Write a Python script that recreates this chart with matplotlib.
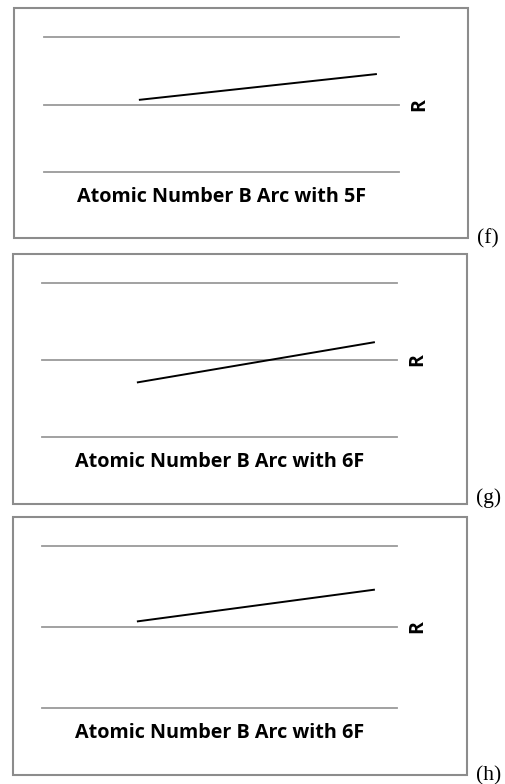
#!/usr/bin/env python
# -*- coding: utf-8 -*-
"""Three stacked R vs atomic number panels"""

import matplotlib as mpl
mpl.use("Agg")
import matplotlib.pyplot as plt
from matplotlib.patches import Rectangle

# data (gridlines at 0 / 1 / 2)
x_vals = [0.27, 0.935]
r_f = [1.07, 1.45]
r_g = [0.71, 1.23]
r_h = [1.07, 1.46]
series = [r_f, r_g, r_h]
titles = ["Atomic Number B Arc with 5F",
          "Atomic Number B Arc with 6F",
          "Atomic Number B Arc with 6F"]
panel_labels = ["(f)", "(g)", "(h)"]
grid_vals = [0, 1, 2]

# layout in pixels
W, H = 506, 784
frames = [(14, 8, 468, 238), (13, 254, 467, 504), (13, 517, 467, 775)]
plots = [(44, 37, 399, 172), (42, 283, 397, 437), (42, 546, 397, 708)]
label_pos = [(477, 243), (476, 503), (476, 780)]

FRAME_C = "#8c8c8c"
GRID_C = "#9a9a9a"


def box(x0, y0, x1, y1):
    return [x0 / W, 1 - y1 / H, (x1 - x0) / W, (y1 - y0) / H]


fig = plt.figure(figsize=(W / 100.0, H / 100.0), dpi=100)

for i in range(3):
    fx0, fy0, fx1, fy1 = frames[i]
    fig.patches.append(Rectangle((fx0 / W, 1 - fy1 / H), (fx1 - fx0) / W,
                                 (fy1 - fy0) / H, transform=fig.transFigure,
                                 fill=False, edgecolor=FRAME_C, lw=1.5))

    ax = fig.add_axes(box(*plots[i]))
    ax.set_xlim(0, 1)
    ax.set_ylim(min(grid_vals), max(grid_vals))
    for s in ax.spines.values():
        s.set_visible(False)
    ax.set_xticks([])
    ax.set_yticks([])
    for g in grid_vals:
        ax.axhline(g, color=GRID_C, lw=1.3, clip_on=False, zorder=1)
    ax.plot(x_vals, series[i], color="black", lw=1.4, zorder=3)

    ax.annotate(titles[i], xy=(0.5, 0), xycoords="axes fraction",
                xytext=(0, -25), textcoords="offset pixels",
                ha="center", va="center", fontsize=14.2,
                fontweight="bold", family="Open Sans")
    ax.annotate("R", xy=(1, 0.5), xycoords="axes fraction",
                xytext=(20, 0), textcoords="offset pixels",
                ha="center", va="center", rotation=90, fontsize=14,
                fontweight="bold", family="Open Sans")

    lx, ly = label_pos[i]
    fig.text(lx / W, 1 - ly / H, panel_labels[i],
             ha="left", va="baseline", fontsize=15.5,
             family="Liberation Serif")

fig.savefig("out.png", dpi=100)
